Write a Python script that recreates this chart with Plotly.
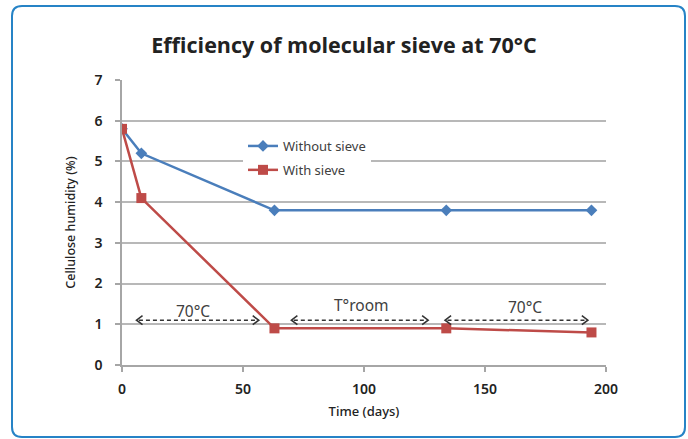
import plotly.graph_objects as go

# ---- data ----
days_without = [0, 8, 63, 134, 194]
hum_without = [5.8, 5.2, 3.8, 3.8, 3.8]
days_with = [0, 8, 63, 134, 194]
hum_with = [5.8, 4.1, 0.9, 0.9, 0.8]

period_labels = ["70°C", "T°room", "70°C"]
period_start = [6, 70, 133.5]
period_end = [56.5, 126.5, 192.5]
label_x = [29.5, 99, 166.5]
label_y = [1.32, 1.47, 1.42]
arrow_y = 1.1

x_ticks = [0, 50, 100, 150, 200]
y_ticks = [0, 1, 2, 3, 4, 5, 6, 7]

W, H = 688, 439
ML, MR, MT, MB = 122, 82, 80, 74
PW, PH = W - ML - MR, H - MT - MB
XR, YR = (0, 200), (0, 7)
DX_PER_PX = (XR[1] - XR[0]) / PW
DY_PER_PX = (YR[1] - YR[0]) / PH

BLUE = "#4a7ebb"
RED = "#be4b48"
TXT = "#404040"
ARW = "#333333"

fig = go.Figure()
fig.add_trace(go.Scatter(
    x=days_without, y=hum_without, name="Without sieve", mode="lines+markers",
    line=dict(color=BLUE, width=2.5), marker=dict(symbol="diamond", size=9, color=BLUE),
    legendgroup="a"))
fig.add_trace(go.Scatter(
    x=days_with, y=hum_with, name="With sieve", mode="lines+markers",
    line=dict(color=RED, width=2.5), marker=dict(symbol="square", size=10, color=RED),
    legendgroup="b"))

shapes = []
annotations = []
cw, ch = 6 * DX_PER_PX, 4.5 * DY_PER_PX  # chevron half-size (pixels -> data units)
for s, e, lab, lx, ly in zip(period_start, period_end, period_labels, label_x, label_y):
    shapes.append(dict(type="line", xref="x", yref="y", x0=s + 1, x1=e - 1, y0=arrow_y, y1=arrow_y,
                       line=dict(color=ARW, width=1.5, dash="4px,3px")))
    for tip, sgn in ((s, 1), (e, -1)):
        shapes.append(dict(type="path", xref="x", yref="y",
                           path=(f"M {tip + sgn * cw},{arrow_y + ch} L {tip},{arrow_y} "
                                 f"L {tip + sgn * cw},{arrow_y - ch}"),
                           line=dict(color=ARW, width=1.6)))
    annotations.append(dict(x=lx, y=ly, xref="x", yref="y", text=lab, showarrow=False,
                            font=dict(family="Noto Sans", size=15.5, color=TXT)))


def px2paper(px, py):
    return (px - ML) / PW, (H - MB - py) / PH


# rounded border
L, R, T, B, r = 12, 685, 6, 437, 10
def P(px, py):
    x, y = px2paper(px, py)
    return f"{x:.5f},{y:.5f}"
path = (f"M {P(L + r, T)} L {P(R - r, T)} Q {P(R, T)} {P(R, T + r)} "
        f"L {P(R, B - r)} Q {P(R, B)} {P(R - r, B)} L {P(L + r, B)} "
        f"Q {P(L, B)} {P(L, B - r)} L {P(L, T + r)} Q {P(L, T)} {P(L + r, T)} Z")
shapes.append(dict(type="path", xref="paper", yref="paper", path=path,
                   line=dict(color="#2683c6", width=2), layer="below"))

lx, ly = px2paper(243, 131)

fig.update_layout(
    width=W, height=H,
    margin=dict(l=ML, r=MR, t=MT, b=MB),
    paper_bgcolor="white", plot_bgcolor="white",
    title=dict(text="<b>Efficiency of molecular sieve at 70°C</b>", x=0.5, xanchor="center",
               y=1 - 45 / H, yanchor="middle",
               font=dict(family="Open Sans", size=21.5, color="#222222")),
    xaxis=dict(range=list(XR), tickvals=x_ticks, showgrid=False, showline=True,
               linecolor="#a6a6a6", linewidth=1.5, ticks="outside", ticklen=5,
               tickcolor="#a6a6a6", tickwidth=1.5, zeroline=False, ticklabelstandoff=5,
               tickfont=dict(family="Noto Sans", size=14, color="#222222", weight=600),
               title=dict(text="Time (days)", standoff=10,
                          font=dict(family="Noto Sans", size=13, color="#222222", weight=500))),
    yaxis=dict(range=list(YR), tickvals=y_ticks, showgrid=True, gridcolor="#b8b8b8", gridwidth=1.5,
               showline=True, linecolor="#a6a6a6", linewidth=1.5, ticks="outside", ticklen=5,
               tickcolor="#a6a6a6", tickwidth=1.5, zeroline=False, ticklabelstandoff=10,
               tickfont=dict(family="Noto Sans", size=14, color="#222222", weight=600),
               title=dict(text="Cellulose humidity (%)", standoff=16,
                          font=dict(family="Noto Sans", size=12.5, color="#222222", weight=500))),
    legend=dict(x=lx, y=ly, xanchor="left", yanchor="top", bgcolor="white",
                font=dict(family="Noto Sans", size=13, color=TXT), tracegroupgap=4,
                itemwidth=30),
    showlegend=True,
    shapes=shapes,
    annotations=annotations,
)

fig.write_html("out.html", config={"displayModeBar": False},
               post_script="document.body.style.margin='0';")
